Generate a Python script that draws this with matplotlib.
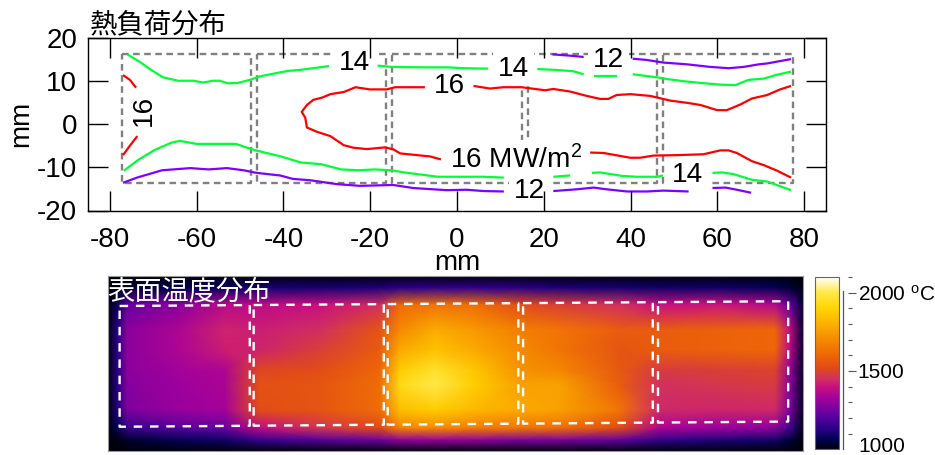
import matplotlib
matplotlib.use("Agg")
import matplotlib.pyplot as plt
import numpy as np
from matplotlib.colors import LinearSegmentedColormap, Normalize
from matplotlib.cm import ScalarMappable

plt.rcParams['font.family'] = ['Liberation Sans', 'DejaVu Sans']
plt.rcParams['mathtext.default'] = 'regular'
plt.rcParams['axes.unicode_minus'] = False
CJK = ['Noto Sans CJK JP', 'DejaVu Sans']

W, H = 935, 455

# --- heat load contour lines (x mm, y mm) ---
red_top_left_x = [-77.0, -75.4, -74.0]
red_top_left_y = [11.3, 10.2, 8.4]
red_bot_left_x = [-73.7, -75.4, -77.0]
red_bot_left_y = [-2.8, -5.0, -7.2]
red_main_x = [-7.4, -14.3, -16.2, -20.1, -23.4, -26.1, -29.2, -31.1, -33.1, -34.6, -35.8, -35.0, -34.6, -32.3, -29.2, -26.1, -23.8, -20.8, -16.5, -14.6, -13.1, -9.2, -6.2, -3.7]
red_main_y = [8.5, 8.5, 8.0, 8.0, 8.5, 7.4, 6.9, 6.1, 5.6, 4.4, 2.8, 1.5, -0.8, -1.8, -2.8, -4.9, -5.5, -5.8, -5.4, -5.9, -6.8, -7.2, -7.5, -8.2]
red_up_right_x = [3.8, 7.6, 10.7, 14.9, 20.3, 22.2, 26.1, 29.9, 33.0, 34.9, 36.8, 40.0, 44.5, 49.2, 53.0, 56.1, 60.0, 62.2, 65.3, 68.0, 71.5, 74.5, 77.0]
red_up_right_y = [8.8, 8.2, 8.5, 8.5, 7.8, 8.1, 7.5, 6.5, 5.8, 5.8, 6.7, 6.9, 6.5, 5.4, 4.9, 4.4, 3.2, 3.2, 4.5, 5.9, 6.7, 8.0, 8.8]
red_low_right_x = [30.7, 33.8, 39.9, 42.2, 45.3, 50.7, 56.8, 60.7, 62.6, 64.5, 68.0, 70.7, 73.8, 77.0]
red_low_right_y = [-6.6, -6.7, -7.8, -7.8, -7.3, -7.2, -7.0, -6.1, -6.1, -6.7, -8.6, -9.5, -10.8, -12.4]

green_top_a_x = [-76.0, -73.2, -70.5, -67.8, -64.3, -60.8, -58.5, -56.2, -54.7, -52.8, -50.5, -47.8, -45.5, -41.5, -38.8, -36.2, -33.2, -29.5]
green_top_a_y = [16.1, 14.4, 12.5, 10.8, 10.0, 10.0, 9.6, 10.0, 10.0, 9.4, 9.5, 10.2, 11.0, 11.8, 12.3, 12.5, 12.9, 13.4]
green_top_b_x = [-18.3, -15.0, -7.7, -2.3, 1.5, 7.2]
green_top_b_y = [13.5, 13.2, 13.1, 13.1, 12.9, 12.8]
green_top_c_x = [18.5, 23.0, 26.8, 29.2]
green_top_c_y = [12.7, 12.5, 12.2, 11.5]
green_top_d_x = [31.5, 36.9]
green_top_d_y = [11.0, 11.0]
green_top_e_x = [40.5, 46.1, 48.4, 52.2, 56.1, 60.7, 64.2, 67.2, 70.7, 73.8, 77.0]
green_top_e_y = [11.5, 10.8, 10.4, 9.9, 9.5, 9.1, 9.0, 10.2, 10.5, 11.4, 12.1]
green_low_a_x = [-76.8, -73.5, -69.7, -65.8, -63.9, -60.0, -51.0, -46.8, -40.6, -36.0, -31.3, -26.7, -22.8, -19.0, -15.2, -12.1, -4.4, 0.0, 6.1, 10.8]
green_low_a_y = [-10.8, -8.3, -6.0, -4.3, -3.9, -4.6, -4.6, -6.0, -7.5, -8.9, -9.3, -10.5, -10.7, -10.5, -10.7, -11.2, -12.2, -12.2, -12.2, -12.4]
green_low_c_x = [22.2, 26.1]
green_low_c_y = [-12.2, -11.9]
green_low_d_x = [31.1, 33.0, 38.0, 41.5, 46.1, 47.5]
green_low_d_y = [-11.3, -11.2, -12.0, -12.2, -12.2, -11.9]
green_low_e_x = [58.9, 61.1, 63.8, 68.0, 71.5, 77.0]
green_low_e_y = [-11.3, -11.2, -11.6, -12.9, -13.3, -15.3]

purple_low_a_x = [-77.0, -73.8, -68.0, -61.5, -57.3, -53.0, -49.2, -46.2, -40.8, -37.8, -33.9, -27.7, -22.4, -14.7, -10.1, -2.4, 2.2, 6.1, 10.8]
purple_low_a_y = [-13.6, -12.4, -10.7, -10.2, -10.5, -10.2, -10.7, -11.3, -11.9, -12.7, -13.0, -13.9, -14.3, -14.1, -14.8, -15.3, -15.2, -15.5, -15.6]
purple_low_c_x = [22.2, 27.6, 31.5, 34.5, 39.2, 43.8, 47.6, 53.4]
purple_low_c_y = [-15.5, -15.1, -14.7, -15.1, -15.6, -15.6, -15.4, -15.6]
purple_low_d_x = [58.9, 61.9, 64.5, 67.8]
purple_low_d_y = [-14.8, -14.7, -15.2, -15.9]
purple_up_a_x = [22.0, 26.1, 29.2]
purple_up_a_y = [16.1, 15.8, 15.5]
purple_up_b_x = [40.5, 43.8, 47.6, 53.0, 58.4, 62.6, 66.1, 69.6, 71.5, 74.2, 77.0]
purple_up_b_y = [15.1, 14.8, 14.2, 13.8, 13.2, 12.9, 13.2, 13.8, 14.0, 14.5, 15.0]

# module boundaries (mm)
box_left = [-77.2, -46.0, -14.9, 16.3, 47.5]
box_right = [-47.4, -16.4, 15.1, 46.2, 77.4]
box_top = 16.1
box_bottom = -13.6

x_ticks = [-80, -60, -40, -20, 0, 20, 40, 60, 80]
y_ticks = [-20, -10, 0, 10, 20]

# --- surface temperature (deg C) ---
surf_x = [-80.1, -77.8, -75.5, -63.4, -53.0, -44.9, -31.0, -17.1, -12.5, -4.4, 4.9, 15.3, 24.5, 38.4, 47.7, 61.6, 74.3, 77.8, 80.8]
surf_y = [20.6, 17.8, 13.9, 8.1, 3.5, -1.2, -4.6, -10.4, -14.6, -17.4, -19.9]
surf_t = [
    [1000, 1000, 1000, 1000, 1000, 1000, 1000, 1000, 1000, 1000, 1000, 1000, 1000, 1000, 1000, 1000, 1000, 1000, 1000],
    [1000, 1000, 1030, 1060, 1080, 1100, 1100, 1110, 1130, 1140, 1140, 1130, 1110, 1100, 1090, 1090, 1070, 1040, 1000],
    [1000, 1080, 1230, 1290, 1370, 1380, 1400, 1450, 1610, 1640, 1620, 1530, 1490, 1450, 1400, 1410, 1360, 1220, 1030],
    [1000, 1130, 1290, 1350, 1430, 1420, 1450, 1550, 1700, 1790, 1740, 1670, 1640, 1570, 1570, 1590, 1600, 1380, 1030],
    [1000, 1130, 1290, 1350, 1420, 1430, 1490, 1570, 1780, 1850, 1780, 1700, 1640, 1550, 1570, 1590, 1600, 1360, 1030],
    [1000, 1130, 1290, 1330, 1350, 1510, 1530, 1600, 1880, 1960, 1860, 1720, 1690, 1560, 1480, 1490, 1500, 1300, 1020],
    [1000, 1130, 1280, 1320, 1340, 1540, 1550, 1620, 1930, 2000, 1880, 1760, 1760, 1570, 1450, 1470, 1480, 1280, 1020],
    [1000, 1120, 1270, 1310, 1330, 1530, 1550, 1620, 1840, 1880, 1820, 1780, 1760, 1640, 1440, 1430, 1440, 1260, 1020],
    [1000, 1070, 1150, 1200, 1230, 1380, 1460, 1520, 1680, 1700, 1660, 1640, 1620, 1520, 1340, 1310, 1290, 1160, 1010],
    [1000, 1000, 1030, 1070, 1090, 1150, 1200, 1240, 1290, 1300, 1290, 1260, 1260, 1220, 1140, 1110, 1090, 1040, 1000],
    [1000, 1000, 1000, 1000, 1000, 1000, 1000, 1000, 1000, 1000, 1000, 1000, 1000, 1000, 1000, 1000, 1000, 1000, 1000],
]
# module boundaries on the thermal image (mm); the image is slightly rotated
img_left = [-77.3, -46.3, -15.3, 16.0, 47.2]
img_right = [-47.2, -16.2, 14.9, 46.0, 77.3]
img_top_l, img_top_r = 13.6, 14.7
img_bot_l, img_bot_r = -14.3, -13.1

cbar_min, cbar_max = 1000, 2100
cbar_major = [1500, 2000]
cbar_minor = [1100, 1200, 1300, 1400, 1600, 1700, 1800, 1900, 2100]

cmap_t = [1000, 1060, 1130, 1220, 1320, 1400, 1450, 1520, 1600, 1700, 1800, 1900, 2000, 2100]
cmap_c = ['#00000c', '#000050', '#2a0088', '#6000a0', '#a0009c', '#c81080', '#d03060', '#e04a18',
          '#ee6608', '#f58a00', '#fcb000', '#ffd400', '#ffe848', '#ffffff']


def rect(x0, y0, x1, y1):
    """pixel box (top-left origin) to figure fractions"""
    return [x0 / W, 1 - y1 / H, (x1 - x0) / W, (y1 - y0) / H]


fig = plt.figure(figsize=(W / 100, H / 100), dpi=100)

# ---------------- top panel ----------------
ax = fig.add_axes(rect(88.3, 37.5, 825.7, 210.5))
ax.set_xlim(-85, 85)
ax.set_ylim(-20, 20)
ax.set_xticks(x_ticks)
ax.set_yticks(y_ticks)
ax.tick_params(axis='x', direction='in', top=True, length=14.5, width=1, labelsize=20, pad=11.7)
ax.tick_params(axis='y', direction='in', right=True, length=14.5, width=1, labelsize=20, pad=8)
ax.set_axisbelow(False)
for s in ax.spines.values():
    s.set_linewidth(1)
    s.set_zorder(5)

dash = dict(color='#808080', lw=1.7, dashes=(2.8, 1.9), zorder=1.8)
for l, r in zip(box_left, box_right):
    ax.plot([l, r, r, l, l], [box_top, box_top, box_bottom, box_bottom, box_top], **dash)

RED, GREEN, PURPLE = '#ff0000', '#00ff33', '#7f00ff'
for c, segs in [
    (RED, [(red_top_left_x, red_top_left_y), (red_bot_left_x, red_bot_left_y), (red_main_x, red_main_y),
           (red_up_right_x, red_up_right_y), (red_low_right_x, red_low_right_y)]),
    (GREEN, [(green_top_a_x, green_top_a_y), (green_top_b_x, green_top_b_y), (green_top_c_x, green_top_c_y),
             (green_top_d_x, green_top_d_y), (green_top_e_x, green_top_e_y), (green_low_a_x, green_low_a_y),
             (green_low_c_x, green_low_c_y), (green_low_d_x, green_low_d_y), (green_low_e_x, green_low_e_y)]),
    (PURPLE, [(purple_low_a_x, purple_low_a_y), (purple_low_c_x, purple_low_c_y),
              (purple_low_d_x, purple_low_d_y), (purple_up_a_x, purple_up_a_y), (purple_up_b_x, purple_up_b_y)]),
]:
    for sx, sy in segs:
        ax.plot(sx, sy, color=c, lw=1.6, zorder=2.3, solid_capstyle='butt')

lab = dict(fontsize=20.2, ha='center', va='center', zorder=2.2,
           bbox=dict(fc='white', ec='none', pad=3.5))
ax.text(-23.7, 14.0, '14', **lab)
ax.text(-1.8, 8.8, '16', **lab)
ax.text(13.0, 12.8, '14', **lab)
ax.text(34.9, 14.8, '12', **lab)
ax.text(53.2, -11.8, '14', **lab)
ax.text(16.7, -15.4, '12', **lab)
ax.text(-72.3, 3.2, '16', rotation=90, **lab)
ax.text(13.6, -8.2, '16 MW/m$^2$', **lab)

ax.set_xlabel('mm', fontsize=20)
ax.set_ylabel('mm', fontsize=20)
ax.xaxis.set_label_coords(0.5, -0.342)
ax.xaxis.label.set_va('baseline')
ax.yaxis.set_label_coords(-0.082, 0.5)
ax.yaxis.label.set_va('baseline')
fig.text(90 / W, 1 - 32 / H, '熱負荷分布', fontsize=19.7, family=CJK, ha='left', va='baseline')

# ---------------- thermal image ----------------
cmap = LinearSegmentedColormap.from_list(
    'surf', [((t - cbar_min) / (cbar_max - cbar_min), c) for t, c in zip(cmap_t, cmap_c)], N=512)
norm = Normalize(cbar_min, cbar_max)

ah = fig.add_axes(rect(107.5, 275.7, 803.3, 451))
ah.pcolormesh(surf_x, surf_y, np.array(surf_t), cmap=cmap, norm=norm, shading='gouraud', rasterized=True)
ah.set_xlim(surf_x[0], surf_x[-1])
ah.set_ylim(surf_y[-1], surf_y[0])
ah.set_xticks([])
ah.set_yticks([])
for s in ah.spines.values():
    s.set_color('#999999')
    s.set_linewidth(0.8)

span = img_right[-1] - img_left[0]


def tilt(x, a, b):
    return a + (b - a) * (x - img_left[0]) / span


wd = dict(color='white', lw=1.7, dashes=(3.6, 3.3), zorder=3)
for l, r in zip(img_left, img_right):
    ah.plot([l, r, r, l, l],
            [tilt(l, img_top_l, img_top_r), tilt(r, img_top_l, img_top_r), tilt(r, img_bot_l, img_bot_r),
             tilt(l, img_bot_l, img_bot_r), tilt(l, img_top_l, img_top_r)], **wd)
ah.text(0.0, 0.985, '表面温度分布', transform=ah.transAxes, color='white', fontsize=19.6, family=CJK,
        ha='left', va='top', zorder=4)

# ---------------- colour bar ----------------
cax = fig.add_axes(rect(815.3, 277, 839.3, 449.3))
cb = fig.colorbar(ScalarMappable(norm=norm, cmap=cmap), cax=cax, orientation='vertical')
cb.set_ticks([])
cb.minorticks_off()
cb.outline.set_edgecolor('#666666')
cb.outline.set_linewidth(0.8)

tax = fig.add_axes(rect(847, 277, 848, 449.3), frameon=False)
tax.set_ylim(cbar_min, cbar_max)
tax.set_xticks([])
tax.spines['left'].set_visible(True)
tax.spines['left'].set_color('#555555')
tax.spines['left'].set_linewidth(0.9)
tax.yaxis.tick_right()
tax.set_yticks(cbar_major)
tax.set_yticklabels(['1500', '2000 $^{o}$C'], fontsize=15)
tax.set_yticks(cbar_minor, minor=True)
tax.tick_params(axis='y', which='major', length=5.5, width=0.8, color='#555555', pad=1.5)
tax.tick_params(axis='y', which='minor', length=2.8, width=0.8, color='#555555')
fig.text(858 / W, 1 - 446 / H, '1000', fontsize=15, ha='left', va='center')
fig.add_artist(plt.Line2D([843 / W, 843 / W], [1 - 291 / H, 1 - 449 / H], color='#555555', lw=0.9))

fig.savefig('out.png', dpi=100)
